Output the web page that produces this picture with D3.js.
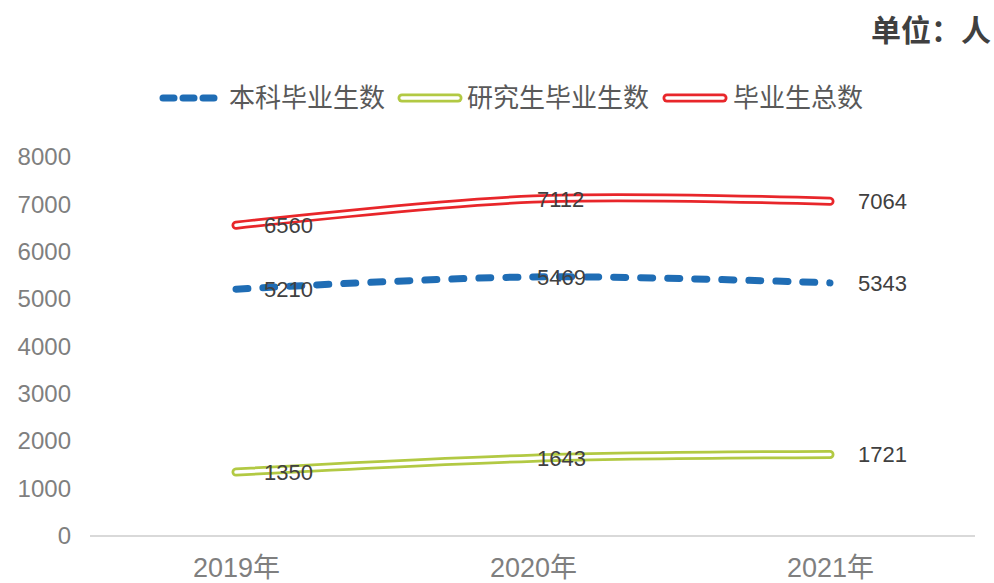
<!DOCTYPE html>
<html>
<head>
<meta charset="utf-8">
<script src="https://cdn.jsdelivr.net/npm/d3@7"></script>
<style>
  body { margin: 0; background: #fff; }
  text { font-family: "Liberation Sans", "Noto Sans CJK SC", sans-serif; }
  .cjk { font-family: "Noto Sans CJK SC", sans-serif; }
</style>
</head>
<body>
<div id="chart"></div>
<script>
// data
const years = ["2019年", "2020年", "2021年"];
const undergrad = [5210, 5469, 5343];
const postgrad = [1350, 1643, 1721];
const total = [6560, 7112, 7064];
const yTicks = [0, 1000, 2000, 3000, 4000, 5000, 6000, 7000, 8000];
const seriesNames = ["本科毕业生数", "研究生毕业生数", "毕业生总数"];

const W = 994, H = 583;
const svg = d3.select("#chart").append("svg")
  .attr("width", W).attr("height", H);

const x = d3.scalePoint().domain(years).range([236, 830]);
const y = d3.scaleLinear().domain([0, 8000]).range([536, 157]);

// unit label
svg.append("text")
  .attr("class", "cjk")
  .attr("x", 991).attr("y", 41)
  .attr("text-anchor", "end")
  .attr("font-size", 30).attr("font-weight", "bold")
  .attr("fill", "#404040")
  .text("单位：人");

// y axis (labels only)
const yAxis = svg.append("g")
  .attr("transform", "translate(71,0)")
  .call(d3.axisLeft(y).tickValues(yTicks).tickFormat(d3.format("d")).tickSize(0).tickPadding(0));
yAxis.select(".domain").remove();
yAxis.selectAll("text")
  .attr("font-size", 24).attr("fill", "#7f7f7f")
  .style("font-family", "Liberation Sans, sans-serif");

// baseline
svg.append("line")
  .attr("x1", 90).attr("x2", 975)
  .attr("y1", y(0)).attr("y2", y(0))
  .attr("stroke", "#d9d9d9").attr("stroke-width", 2);

// x axis labels
const xAxis = svg.append("g")
  .attr("transform", `translate(0,${y(0)})`)
  .call(d3.axisBottom(x).tickSize(0).tickPadding(22));
xAxis.select(".domain").remove();
xAxis.selectAll("text")
  .attr("font-size", 27).attr("fill", "#7f7f7f")
  .style("font-family", "Liberation Sans, Noto Sans CJK SC, sans-serif");

const line = d3.line()
  .x((d, i) => x(years[i]))
  .y(d => y(d))
  .curve(d3.curveCatmullRom.alpha(0.5));

// total - red double line
svg.append("path").attr("d", line(total))
  .attr("fill", "none").attr("stroke", "#e8262a").attr("stroke-width", 9)
  .attr("stroke-linecap", "round");
svg.append("path").attr("d", line(total))
  .attr("fill", "none").attr("stroke", "#fff").attr("stroke-width", 3.5)
  .attr("stroke-linecap", "round");

// postgrad - green double line
svg.append("path").attr("d", line(postgrad))
  .attr("fill", "none").attr("stroke", "#b2c943").attr("stroke-width", 9)
  .attr("stroke-linecap", "round");
svg.append("path").attr("d", line(postgrad))
  .attr("fill", "none").attr("stroke", "#fff").attr("stroke-width", 3.5)
  .attr("stroke-linecap", "round");

// undergrad - blue dashed
svg.append("path").attr("d", line(undergrad))
  .attr("fill", "none").attr("stroke", "#1f6db5").attr("stroke-width", 7)
  .attr("stroke-linecap", "round")
  .attr("stroke-dasharray", "12 15");

// data labels
const labelDx = [28, 4, 28];
[total, undergrad, postgrad].forEach(vals => {
  svg.append("g").selectAll("text")
    .data(vals)
    .join("text")
      .attr("x", (d, i) => x(years[i]) + labelDx[i])
      .attr("y", d => y(d))
      .attr("dy", "0.36em")
      .attr("font-size", 22)
      .attr("fill", "#404040")
      .text(d => d);
});

// legend
const legend = [
  {name: seriesNames[0], x0: 160, tx: 229, type: "dash", color: "#1f6db5"},
  {name: seriesNames[1], x0: 398, tx: 467, type: "double", color: "#b2c943"},
  {name: seriesNames[2], x0: 663, tx: 733, type: "double", color: "#e8262a"}
];
const ly = 98;
legend.forEach(l => {
  if (l.type === "dash") {
    svg.append("line")
      .attr("x1", l.x0 + 3).attr("x2", l.x0 + 62)
      .attr("y1", ly).attr("y2", ly)
      .attr("stroke", l.color).attr("stroke-width", 7)
      .attr("stroke-linecap", "round").attr("stroke-dasharray", "11 9");
  } else {
    svg.append("line")
      .attr("x1", l.x0 + 4).attr("x2", l.x0 + 60)
      .attr("y1", ly).attr("y2", ly)
      .attr("stroke", l.color).attr("stroke-width", 9).attr("stroke-linecap", "round");
    svg.append("line")
      .attr("x1", l.x0 + 4).attr("x2", l.x0 + 60)
      .attr("y1", ly).attr("y2", ly)
      .attr("stroke", "#fff").attr("stroke-width", 3.5).attr("stroke-linecap", "round");
  }
  svg.append("text")
    .attr("class", "cjk")
    .attr("x", l.tx).attr("y", ly)
    .attr("dy", "0.35em")
    .attr("font-size", 26).attr("fill", "#595959")
    .text(l.name);
});
</script>
</body>
</html>
